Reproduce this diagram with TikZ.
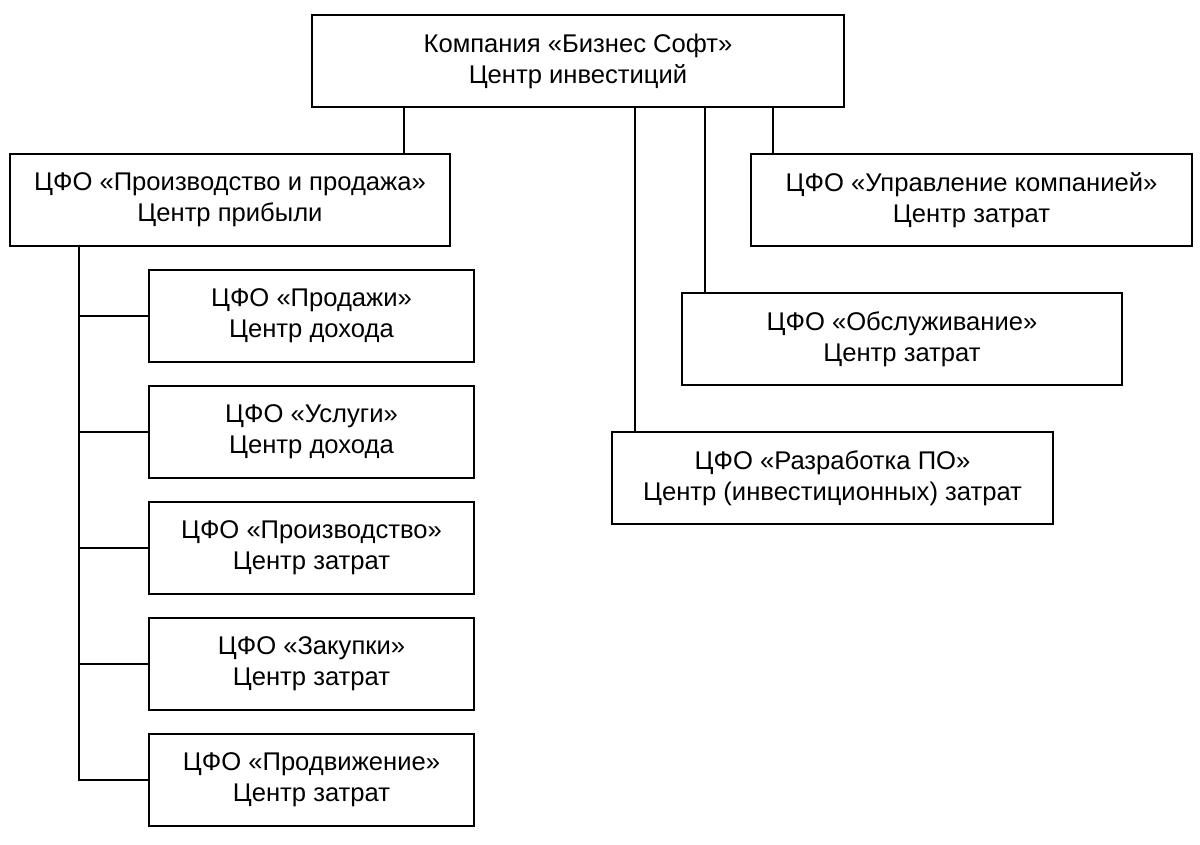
\documentclass[tikz,border=0pt]{standalone}
\usepackage{fontspec}
\setmainfont{Liberation Sans}
\begin{document}
\begin{tikzpicture}[x=1pt,y=-1pt,
  box/.style={draw=black, line width=1.6pt, rectangle, align=center,
    minimum height=92pt, inner sep=0pt,
    font=\fontsize{25.6}{31}\selectfont},
  link/.style={draw=black, line width=1.6pt}]
\useasboundingbox (0,0) rectangle (1200,844);
\node[box, minimum width=532pt] (top) at (578,61) {Компания «Бизнес Софт»\\Центр инвестиций};
\node[box, minimum width=440pt] (prod) at (230,200) {ЦФО «Производство и продажа»\\Центр прибыли};
\node[box, minimum width=441pt] (upr) at (971.5,200) {ЦФО «Управление компанией»\\Центр затрат};
\node[box, minimum width=440pt] (obs) at (902,339) {ЦФО «Обслуживание»\\Центр затрат};
\node[box, minimum width=441pt] (razr) at (832.5,478) {ЦФО «Разработка ПО»\\Центр (инвестиционных) затрат};
\node[box, minimum width=325pt] (c1) at (311.5,316) {ЦФО «Продажи»\\Центр дохода};
\node[box, minimum width=325pt] (c2) at (311.5,432) {ЦФО «Услуги»\\Центр дохода};
\node[box, minimum width=325pt] (c3) at (311.5,548) {ЦФО «Производство»\\Центр затрат};
\node[box, minimum width=325pt] (c4) at (311.5,664) {ЦФО «Закупки»\\Центр затрат};
\node[box, minimum width=325pt] (c5) at (311.5,780) {ЦФО «Продвижение»\\Центр затрат};
\coordinate (t1) at ([xshift=93pt]top.south west);
\coordinate (t2) at ([xshift=324pt]top.south west);
\coordinate (t3) at ([xshift=394pt]top.south west);
\coordinate (t4) at ([xshift=462pt]top.south west);
\draw[link] (t1) -- (t1 |- prod.north);
\draw[link] (t2) -- (t2 |- razr.north);
\draw[link] (t3) -- (t3 |- obs.north);
\draw[link] (t4) -- (t4 |- upr.north);
\coordinate (tr) at ([xshift=70pt]prod.south west);
\draw[link] (tr) -- (tr |- c5.west) -- (c5.west);
\foreach \c in {c1,c2,c3,c4}{
  \draw[link] (tr |- \c.west) -- (\c.west);
}
\end{tikzpicture}
\end{document}
